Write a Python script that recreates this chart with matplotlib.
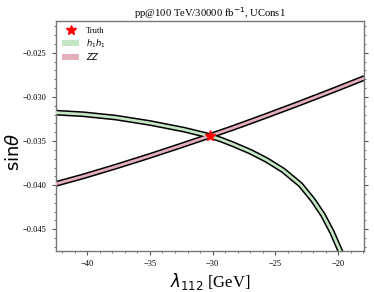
import matplotlib
matplotlib.use("Agg")
import matplotlib.pyplot as plt
from matplotlib.patches import Patch
from matplotlib.lines import Line2D
from matplotlib.ticker import MultipleLocator

plt.rcParams['font.family'] = ['Liberation Serif', 'DejaVu Serif']
plt.rcParams['mathtext.fontset'] = 'dejavusans'

# Truth point
truth_x = -30.2
truth_y = -0.0344

# ZZ band centre
zz_x = [-42.6, -40.3, -37.7, -35.0, -32.3, -30.2, -28.4, -25.7, -23.0, -20.4, -17.9]
zz_y = [-0.03990, -0.03900, -0.03789, -0.03668, -0.03541, -0.03440, -0.03352,
        -0.03212, -0.03068, -0.02925, -0.02784]

# h1h1 band centre
hh_x = [-42.6, -40.3, -37.7, -35.0, -32.3, -30.2, -29.4, -28.4, -27.0, -25.7,
        -24.4, -23.0, -22.0, -21.2, -20.5, -19.85, -19.7]
hh_y = [-0.03177, -0.03196, -0.03234, -0.03295, -0.03370, -0.03443, -0.03480,
        -0.03535, -0.03620, -0.03715, -0.03830, -0.03995, -0.04170, -0.04340,
        -0.04530, -0.04741, -0.04790]

green = '#c4e6c4'
pink = '#e4b0bc'

fig = plt.figure(figsize=(3.74, 2.92), dpi=100)
ax = fig.add_axes([0.149, 0.1414, 0.824, 0.7876])

for xs, ys, c in [(hh_x, hh_y, green), (zz_x, zz_y, pink)]:
    ax.plot(xs, ys, color='black', lw=4.2, solid_capstyle='butt',
            solid_joinstyle='round', zorder=2)
    ax.plot(xs, ys, color=c, lw=2.0, solid_capstyle='butt',
            solid_joinstyle='round', zorder=3)

ax.plot([truth_x], [truth_y], marker='*', color='red', ms=8, ls='none', zorder=5)

ax.set_xlim(-42.5, -17.95)
ax.set_ylim(-0.04743, -0.02136)
ax.xaxis.set_major_locator(MultipleLocator(5))
ax.xaxis.set_minor_locator(MultipleLocator(1))
ax.yaxis.set_major_locator(MultipleLocator(0.005))
ax.yaxis.set_minor_locator(MultipleLocator(0.001))
ax.tick_params(which='both', direction='out', labelsize=6, right=True, top=False,
               color='#555555')
ax.tick_params(which='major', length=3, width=0.8)
ax.tick_params(which='minor', length=1.5, width=0.6)
for s in ax.spines.values():
    s.set_color('#777777')
    s.set_linewidth(1.0)

ax.set_title(r'pp@100 TeV/30000 fb$^{-1}$, UCons1', fontsize=7.7, pad=3)
ax.set_xlabel(r'$\lambda_{112}$ [GeV]', fontsize=12, labelpad=2)
ax.set_ylabel(r'$\mathsf{sin}\theta$', fontsize=13)
ax.yaxis.set_label_coords(-0.106, 0.43)

handles = [Line2D([], [], marker='*', color='red', ls='none', ms=7),
           Patch(facecolor=green, edgecolor='none'),
           Patch(facecolor=pink, edgecolor='none')]
ax.legend(handles, ['Truth', r'$h_1h_1$', r'$ZZ$'], loc='upper left', frameon=False,
          fontsize=6, handlelength=2.0, handleheight=0.7, borderaxespad=0.4,
          labelspacing=0.2)

fig.savefig('out.png', dpi=100)
